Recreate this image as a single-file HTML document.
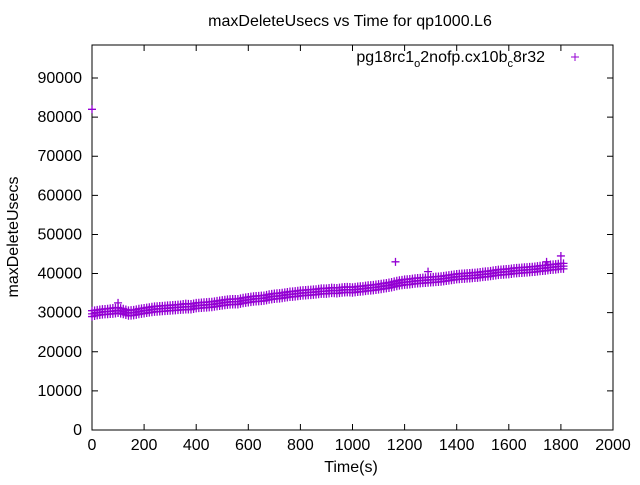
<!DOCTYPE html>
<html><head><meta charset="utf-8"><style>
body{margin:0;background:#fff}
svg text{font-family:"Liberation Sans",sans-serif;font-size:16px;fill:#000}
</style></head><body>
<svg id="chart" width="640" height="480" xmlns="http://www.w3.org/2000/svg">
<rect x="0" y="0" width="640" height="480" fill="#fff"/>
<text x="350" y="26" text-anchor="middle">maxDeleteUsecs vs Time for qp1000.L6</text>
<text x="351" y="472" text-anchor="middle">Time(s)</text>
<text transform="translate(18,237) rotate(-90)" text-anchor="middle">maxDeleteUsecs</text>
<g id="axes"></g>
<g id="marks"></g>
<g>
<text x="545" y="62" text-anchor="end">pg18rc1<tspan font-size="11" dy="5">o</tspan><tspan dy="-5">2nofp.cx10b</tspan><tspan font-size="11" dy="5">c</tspan><tspan dy="-5">8r32</tspan></text>
<path d="M571 57h8M575 53v8" stroke="#9400d3" stroke-width="1"/>
</g>
</svg>
<script>
const times=[0,20,40,60,80,100,120,140,160,180,200,220,240,260,280,300,320,340,360,380,400,420,440,460,480,500,520,540,560,580,600,620,640,660,680,700,720,740,760,780,800,820,840,860,880,900,920,940,960,980,1000,1020,1040,1060,1080,1100,1120,1140,1160,1180,1200,1220,1240,1260,1280,1300,1320,1340,1360,1380,1400,1420,1440,1460,1480,1500,1520,1540,1560,1580,1600,1620,1640,1660,1680,1700,1720,1740,1760,1780,1800];
const midVals=[29700,30000,30200,30300,30400,30600,30300,29900,30000,30300,30500,30700,30900,31000,31100,31200,31300,31400,31500,31500,31800,31900,32000,32100,32300,32500,32700,32800,32800,33100,33300,33500,33600,33700,34000,34200,34300,34500,34700,34800,35000,35100,35200,35300,35500,35500,35700,35600,35800,35900,35800,36000,36100,36300,36400,36600,36800,37000,37300,37600,37800,37900,38100,38200,38300,38400,38500,38600,38800,39000,39200,39300,39400,39500,39600,39800,39900,40100,40300,40400,40500,40700,40800,40900,41000,41100,41300,41400,41600,41700,41900];
const hiVals=[30500,30700,30900,31000,31200,31300,31000,30600,30700,31000,31200,31400,31600,31700,31800,31900,32000,32100,32300,32200,32500,32600,32700,32800,33000,33200,33400,33500,33500,33800,34000,34200,34300,34400,34700,34900,35000,35200,35400,35500,35700,35800,35900,36000,36200,36200,36400,36300,36500,36600,36500,36700,36800,37000,37100,37300,37500,37700,38000,38300,38500,38600,38800,38900,39000,39100,39200,39300,39500,39700,39900,40000,40100,40200,40300,40500,40600,40800,41000,41100,41200,41400,41500,41600,41700,41800,42000,42100,42300,42400,42600];
const loVals=[29000,29300,29500,29600,29700,29900,29600,29200,29300,29600,29800,30000,30200,30300,30400,30500,30600,30700,30800,30800,31100,31200,31300,31400,31600,31800,32000,32100,32100,32400,32600,32800,32900,33000,33300,33500,33600,33800,34000,34100,34300,34400,34500,34600,34800,34800,35000,34900,35100,35200,35100,35300,35400,35600,35700,35900,36100,36300,36600,36900,37100,37200,37400,37500,37600,37700,37800,37900,38100,38300,38500,38600,38700,38800,38900,39100,39200,39400,39600,39700,39800,40000,40100,40200,40300,40400,40600,40700,40900,41000,41200];
const outlierTimes=[0,100,1165,1290,1800,1745];
const outlierVals=[82000,32500,43000,40500,44500,43000];
const xTicks=[0,200,400,600,800,1000,1200,1400,1600,1800,2000];
const yTicks=[0,10000,20000,30000,40000,50000,60000,70000,80000,90000];
const X0=92,X1=613,Y0=430,YT=45;
const xs=v=>X0+(v/2000)*(X1-X0);
const ys=v=>Y0-(v/90000)*(Y0-78);
const NS="http://www.w3.org/2000/svg";
const axes=document.getElementById('axes'),marks=document.getElementById('marks');
function mk(tag,attrs,parent){const e=document.createElementNS(NS,tag);for(const k in attrs)e.setAttribute(k,attrs[k]);parent.appendChild(e);return e;}
const frame=mk('rect',{x:X0,y:YT,width:X1-X0,height:Y0-YT,fill:'none',stroke:'#000','stroke-width':1},axes);


xTicks.forEach(t=>{
 const x=xs(t);
 const tk=mk('path',{d:`M${x} ${Y0}v-6M${x} ${YT}v6`,stroke:'#000'},axes);
 
 
 const tx=mk('text',{x:x,y:Y0+20,'text-anchor':'middle'},axes);tx.textContent=t;
 
 
});
yTicks.forEach(t=>{
 const y=ys(t);
 const tk=mk('path',{d:`M${X0} ${y}h6M${X1} ${y}h-6`,stroke:'#000'},axes);
 
 
 const tx=mk('text',{x:X0-10,y:y+5,'text-anchor':'end'},axes);tx.textContent=t;
 
 
});
function plus(t,v){
 const x=xs(t),y=ys(v);
 const p=mk('path',{d:`M${x-4} ${y}h8M${x} ${y-4}v8`,stroke:'#9400d3','stroke-width':1.3},marks);
 
 
}
[loVals,midVals,hiVals].forEach(arr=>times.forEach((t,i)=>{plus(t,arr[i]);plus(t+10,(arr[i]+(arr[i+1]??arr[i]))/2);}));
outlierTimes.forEach((t,i)=>plus(t,outlierVals[i]));
</script>
</body></html>
